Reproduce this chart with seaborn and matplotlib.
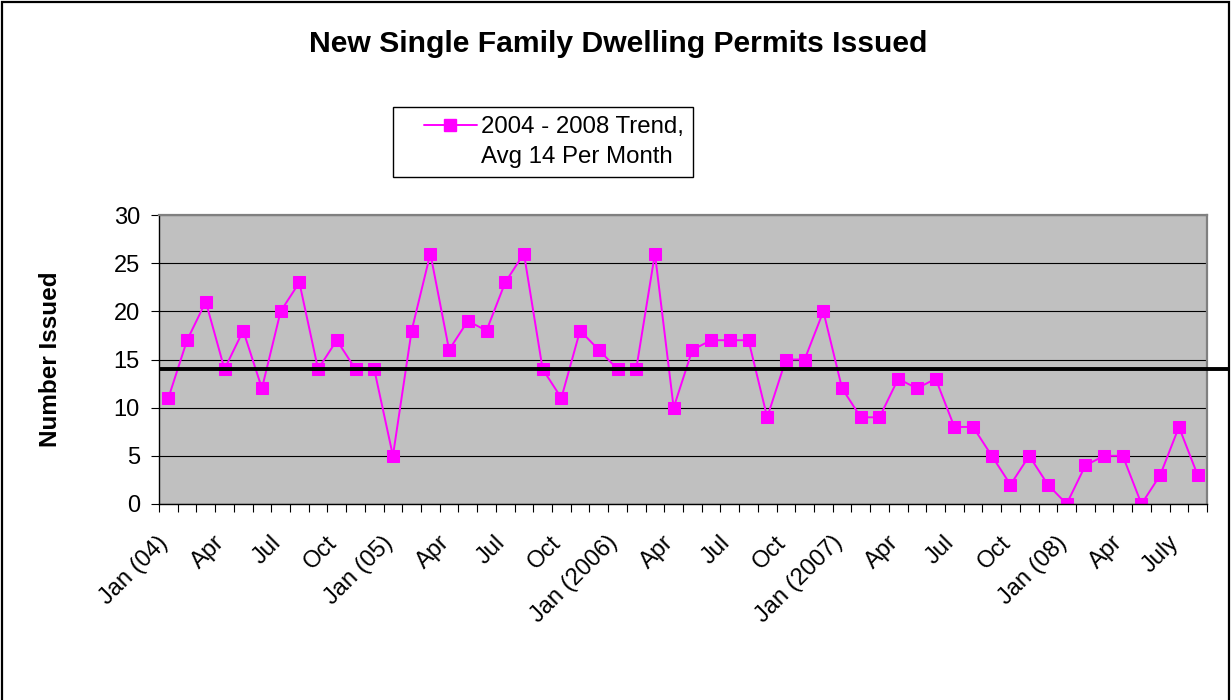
import matplotlib
matplotlib.use("Agg")
import matplotlib.pyplot as plt
import matplotlib.transforms as mtransforms
from matplotlib.lines import Line2D
from matplotlib.patches import Rectangle
from matplotlib.legend_handler import HandlerLine2D
import numpy as np
import pandas as pd
import seaborn as sns

# Monthly permits, Jan 2004 through Aug 2008
permits_2004 = [11, 17, 21, 14, 18, 12, 20, 23, 14, 17, 14, 14]
permits_2005 = [5, 18, 26, 16, 19, 18, 23, 26, 14, 11, 18, 16]
permits_2006 = [14, 14, 26, 10, 16, 17, 17, 17, 9, 15, 15, 20]
permits_2007 = [12, 9, 9, 13, 12, 13, 8, 8, 5, 2, 5, 2]
permits_2008 = [0, 4, 5, 5, 0, 3, 8, 3]

tick_labels = ["Jan (04)", "Apr", "Jul", "Oct",
               "Jan (05)", "Apr", "Jul", "Oct",
               "Jan (2006)", "Apr", "Jul", "Oct",
               "Jan (2007)", "Apr", "Jul", "Oct",
               "Jan (08)", "Apr", "July"]
avg_per_month = 14
y_ticks = [0, 5, 10, 15, 20, 25, 30]

series_label = "2004 - 2008 Trend,"
series_label_2 = "Avg 14 Per Month"

permits = permits_2004 + permits_2005 + permits_2006 + permits_2007 + permits_2008
df = pd.DataFrame({"month": np.arange(len(permits)), "permits": permits})

sns.set_style("white")
plt.rcParams["font.family"] = ["Liberation Sans", "DejaVu Sans"]
plt.rcParams.update({"text.color": "black", "axes.labelcolor": "black",
                     "xtick.color": "black", "ytick.color": "black"})

fig = plt.figure(figsize=(12.31, 7.0), dpi=100)
ax = fig.add_axes([159 / 1231, 1 - 504 / 700, 1048 / 1231, 289 / 700])
ax.set_facecolor("#C0C0C0")

magenta = "#FF00FF"
sns.lineplot(data=df, x="month", y="permits", ax=ax, color=magenta,
             marker="s", markersize=8.7, markeredgecolor=magenta,
             linewidth=1.4, label=series_label, legend=False)

# Average reference line, running out to the frame edge
blend = mtransforms.blended_transform_factory(ax.transAxes, ax.transData)
ax.plot([0, (1228 - 159) / 1048], [avg_per_month, avg_per_month],
        transform=blend, color="black", linewidth=2.8, clip_on=False,
        solid_capstyle="butt", zorder=5)

ax.set_xlim(-0.5, len(permits) - 0.5)
ax.set_ylim(0, 30)
ax.set_yticks(y_ticks)
ax.yaxis.grid(True, color="black", linewidth=0.8)
ax.xaxis.grid(False)
ax.set_axisbelow(True)

ax.set_xticks(np.arange(0, len(permits), 3))
ax.set_xticklabels(tick_labels, rotation=45, ha="right", va="top",
                   rotation_mode="anchor", fontsize=17)
ax.set_xticks(np.arange(-0.5, len(permits), 1.0), minor=True)
ax.tick_params(axis="x", which="major", length=0, pad=20)
ax.tick_params(axis="x", which="minor", length=5.8, width=0.8,
               color="black", direction="out", bottom=True)
ax.tick_params(axis="y", length=5.8, width=0.8, color="black",
               direction="out", left=True, pad=8, labelsize=17)

for lbl in ax.get_xticklabels():
    lbl.set_transform(lbl.get_transform() +
                      mtransforms.ScaledTranslation(-11 / 100, 0, fig.dpi_scale_trans))

ax.set_xlabel("")
ax.set_ylabel("Number Issued", fontsize=17.5, fontweight="bold")
ax.yaxis.set_label_coords(-0.0926, 0.5)

for side in ("left", "bottom"):
    ax.spines[side].set_color("black")
    ax.spines[side].set_linewidth(1.0)
for side in ("top", "right"):
    ax.spines[side].set_color("#808080")
    ax.spines[side].set_linewidth(1.6)

fig.text(0.502, 1 - 44 / 700, "New Single Family Dwelling Permits Issued",
         ha="center", va="center", fontsize=21.7, fontweight="bold")


class LeadingLineHandler(HandlerLine2D):
    """Line handle drawn with a blank lead-in on its left side."""
    def __init__(self, lead_frac, **kw):
        super().__init__(**kw)
        self.lead_frac = lead_frac

    def create_artists(self, legend, orig_handle, xdescent, ydescent,
                       width, height, fontsize, trans):
        lead = width * self.lead_frac
        return super().create_artists(legend, orig_handle, xdescent - lead,
                                      ydescent, width - lead, height,
                                      fontsize, trans)


series_handle = Line2D([], [], color=magenta, marker="s", markersize=8.7,
                       linewidth=1.4)
blank_handle = Line2D([], [], color="none")
leg = fig.legend([series_handle, blank_handle], [series_label, series_label_2],
                 loc="upper left", bbox_to_anchor=(393 / 1231, 1 - 107 / 700),
                 fontsize=17.3, frameon=True, fancybox=False, shadow=False,
                 edgecolor="black", framealpha=1, borderpad=0.38,
                 handlelength=3.1, handletextpad=0.2, labelspacing=0.32,
                 borderaxespad=0,
                 handler_map={series_handle: LeadingLineHandler(0.29)})
leg.get_frame().set_linewidth(1.0)

# Outer chart frame
fig.patches.append(Rectangle((2 / 1231, -0.02), 1227 / 1231, 1 - 2 / 700 + 0.02,
                             transform=fig.transFigure, fill=False,
                             edgecolor="black", linewidth=1.6))

fig.savefig("out.png", dpi=100)
